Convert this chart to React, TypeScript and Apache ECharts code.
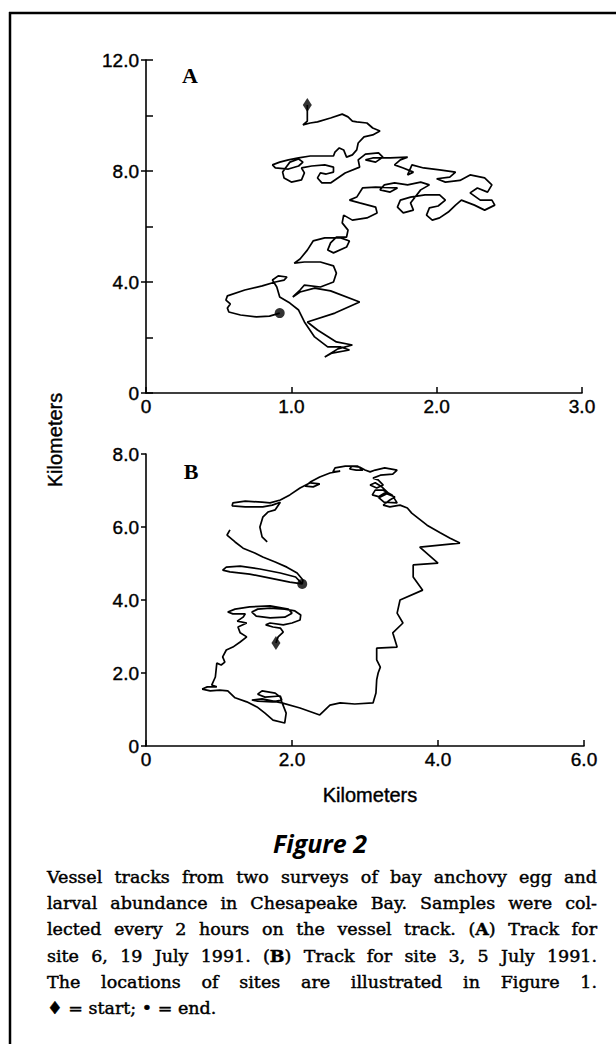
import React, { useEffect, useRef } from "react";
import * as echarts from "echarts";

// ---- Panel A: track for site 6 (km) ----
const trackA: number[][] = [
  [1.11, 10.38], [1.11, 10.05], [1.11, 9.8], [1.08, 9.66], [1.13, 9.73], [1.18, 9.77], [1.27, 9.91], [1.35, 10.05],
  [1.39, 9.95], [1.42, 9.8], [1.45, 9.77], [1.52, 9.73], [1.56, 9.55], [1.61, 9.44], [1.56, 9.3], [1.5, 9.23],
  [1.46, 9.01], [1.45, 8.76], [1.42, 8.58],
  [1.38, 8.5], [1.36, 8.76], [1.33, 8.83], [1.3, 8.68], [1.29, 8.54], [1.21, 8.54], [1.13, 8.54], [1.05, 8.47],
  [0.98, 8.4], [0.92, 8.32], [0.87, 8.22], [0.89, 8.11], [0.98, 8.07], [1.05, 8.18], [1.08, 8.32], [1.05, 8.43],
  [0.99, 8.32], [0.96, 8.11], [0.94, 7.96], [0.95, 7.75], [1.0, 7.6], [1.07, 7.68], [1.09, 7.93], [1.07, 8.11],
  [1.14, 8.18], [1.23, 8.22], [1.29, 8.14], [1.29, 7.96], [1.24, 7.89], [1.2, 7.93], [1.18, 7.75], [1.21, 7.57],
  [1.27, 7.57],
  [1.37, 7.93], [1.47, 8.14], [1.46, 8.4], [1.51, 8.61], [1.6, 8.65], [1.63, 8.5], [1.58, 8.32], [1.51, 8.4],
  [1.56, 8.47], [1.68, 8.47], [1.8, 8.5], [1.75, 8.4], [1.71, 8.22], [1.77, 8.11], [1.84, 7.96], [1.8, 7.86],
  [1.83, 8.22], [1.91, 8.11], [2.02, 8.04], [2.13, 7.96], [2.09, 7.78], [2.0, 7.72], [2.06, 7.6], [2.16, 7.66],
  [2.23, 7.86], [2.33, 7.75], [2.38, 7.5], [2.35, 7.24],
  [2.28, 7.39], [2.23, 7.21], [2.3, 6.95], [2.38, 6.95], [2.4, 6.77], [2.33, 6.59], [2.26, 6.77], [2.17, 6.95],
  [2.13, 6.77], [2.08, 6.52], [2.02, 6.31], [1.97, 6.23], [1.93, 6.41], [1.95, 6.67], [2.01, 6.74], [2.06, 6.95],
  [2.02, 7.14], [1.92, 7.14], [1.82, 7.06], [1.75, 6.95], [1.73, 6.7], [1.77, 6.49], [1.84, 6.59], [1.82, 6.85],
  [1.89, 7.32], [1.95, 7.5], [1.89, 7.6], [1.8, 7.5], [1.71, 7.57], [1.64, 7.5], [1.61, 7.32], [1.68, 7.24],
  [1.73, 7.39], [1.58, 7.42], [1.49, 7.39],
  [1.45, 7.06], [1.4, 6.95], [1.47, 6.85], [1.58, 6.7], [1.59, 6.49], [1.52, 6.31], [1.42, 6.23], [1.36, 6.41],
  [1.35, 6.13], [1.39, 5.87], [1.38, 5.62], [1.31, 5.62], [1.27, 5.41], [1.25, 5.15], [1.29, 5.05], [1.38, 5.26],
  [1.4, 5.48], [1.34, 5.59], [1.23, 5.59], [1.15, 5.48], [1.11, 5.15], [1.06, 4.83], [1.02, 4.68], [1.09, 4.72],
  [1.2, 4.72], [1.29, 4.58], [1.31, 4.32], [1.29, 4.0], [1.2, 3.82], [1.09, 3.89], [1.06, 3.71], [1.01, 3.46],
  [1.06, 3.64], [1.16, 3.78], [1.27, 3.68], [1.47, 3.28], [1.3, 2.88], [1.11, 2.56], [1.18, 2.27], [1.31, 1.84],
  [1.42, 1.73], [1.32, 1.59], [1.23, 1.3], [1.28, 1.44], [1.4, 1.55], [1.34, 1.66], [1.25, 1.66], [1.16, 2.02],
  [1.09, 2.56], [1.05, 2.99], [0.99, 3.24], [0.92, 3.46], [0.9, 3.82], [0.87, 4.07], [0.91, 4.22], [0.97, 4.18],
  [0.95, 4.07], [0.89, 4.0], [0.8, 3.86], [0.68, 3.71], [0.56, 3.5], [0.55, 3.35], [0.58, 3.21], [0.56, 3.06],
  [0.57, 2.92], [0.65, 2.81], [0.76, 2.74], [0.85, 2.77], [0.92, 2.88],
];
const startA: number[] = [1.11, 10.38];
const endA: number[] = [0.92, 2.88];

// ---- Panel B: track for site 3 (km) ----
const trackB: number[][] = [
  [1.78, 2.82], [1.81, 2.99], [1.88, 3.12], [1.84, 3.23], [1.74, 3.26], [1.64, 3.32], [1.7, 3.37], [1.88, 3.32],
  [2.0, 3.37], [2.11, 3.45], [2.12, 3.59], [2.04, 3.7], [1.9, 3.75], [1.7, 3.78], [1.53, 3.75], [1.45, 3.67],
  [1.51, 3.56], [1.7, 3.51], [1.9, 3.53], [2.0, 3.64], [1.95, 3.75], [1.7, 3.84], [1.42, 3.81], [1.22, 3.75],
  [1.12, 3.67], [1.19, 3.62], [1.36, 3.62], [1.33, 3.53], [1.25, 3.42], [1.38, 3.37], [1.26, 3.26], [1.29, 3.1],
  [1.38, 2.99], [1.29, 2.85], [1.19, 2.71], [1.1, 2.63], [1.05, 2.44], [1.08, 2.3], [1.03, 2.22], [0.97, 2.27],
  [0.96, 2.08], [0.95, 1.89], [0.9, 1.67], [0.97, 1.62], [0.84, 1.62], [0.77, 1.56], [0.88, 1.51], [1.01, 1.53],
  [1.12, 1.51], [1.22, 1.32], [1.38, 1.21], [1.52, 1.07], [1.63, 0.9], [1.74, 0.71], [1.9, 0.63], [1.92, 0.9],
  [1.86, 1.21], [1.84, 1.34], [1.77, 1.45], [1.59, 1.51], [1.53, 1.42], [1.63, 1.34], [1.84, 1.37], [1.86, 1.26],
  [1.73, 1.21], [1.53, 1.23], [1.45, 1.26], [1.59, 1.29], [1.86, 1.18], [2.11, 1.04], [2.38, 0.85], [2.42, 0.93],
  [2.52, 1.12], [2.66, 1.18], [2.86, 1.15], [3.11, 1.18], [3.15, 1.45], [3.16, 1.81], [3.18, 2.0], [3.21, 2.16],
  [3.16, 2.36], [3.16, 2.68], [3.44, 2.71], [3.38, 3.1], [3.52, 3.37], [3.44, 3.64], [3.48, 4.0], [3.79, 4.27],
  [3.66, 4.63], [3.66, 4.96], [4.0, 5.01], [3.75, 5.45], [4.3, 5.56], [4.16, 5.7], [4.03, 5.84], [3.85, 6.05],
  [3.64, 6.38], [3.58, 6.52],
  [3.48, 6.6], [3.34, 6.55], [3.25, 6.6], [3.34, 6.74], [3.41, 6.82], [3.27, 6.93], [3.18, 6.82], [3.26, 6.68],
  [3.44, 6.66], [3.37, 6.88], [3.25, 7.01], [3.14, 7.01], [3.1, 6.88], [3.21, 6.82], [3.32, 6.93], [3.23, 7.1],
  [3.14, 7.21], [3.07, 7.15], [3.16, 7.07], [3.25, 7.15], [3.18, 7.29], [3.11, 7.34], [3.21, 7.42], [3.38, 7.45],
  [3.44, 7.56], [3.27, 7.62], [3.14, 7.56], [3.07, 7.51], [3.0, 7.56], [2.93, 7.64], [2.82, 7.67], [2.79, 7.59],
  [2.88, 7.56], [2.97, 7.56], [2.9, 7.67], [2.73, 7.67], [2.59, 7.62], [2.56, 7.51], [2.66, 7.53], [2.52, 7.48],
  [2.38, 7.37], [2.25, 7.23], [2.18, 7.12], [2.29, 7.1], [2.38, 7.18], [2.25, 7.21], [2.11, 7.07], [1.97, 6.88],
  [1.84, 6.74], [1.7, 6.66], [1.59, 6.68], [1.36, 6.71], [1.19, 6.66], [1.18, 6.58], [1.36, 6.55], [1.6, 6.55],
  [1.73, 6.6], [1.84, 6.68], [1.77, 6.47], [1.67, 6.41], [1.6, 6.27], [1.56, 6.0], [1.59, 5.73], [1.66, 5.59],
];
const trackBEnd: number[][] = [
  [1.15, 5.92], [1.11, 5.78], [1.22, 5.59], [1.33, 5.42], [1.49, 5.29], [1.6, 5.18], [1.77, 5.04], [1.93, 4.9],
  [2.07, 4.74], [2.15, 4.55], [2.14, 4.44], [1.97, 4.49], [1.7, 4.6], [1.42, 4.71], [1.15, 4.77], [1.05, 4.82],
  [1.1, 4.9], [1.29, 4.93], [1.56, 4.85], [1.84, 4.74], [2.05, 4.63], [2.14, 4.44],
];
const startB: number[] = [1.78, 2.82];
const endB: number[] = [2.14, 4.44];

// ---- tick labels ----
const xLabelsA = ["0", "1.0", "2.0", "3.0"];
const yLabelsA = ["0", "4.0", "8.0", "12.0"];
const xLabelsB = ["0", "2.0", "4.0", "6.0"];
const yLabelsB = ["0", "2.0", "4.0", "6.0", "8.0"];

// ---- texts ----
const panelLetters = ["A", "B"];
const axisTitle = "Kilometers";
const figureTitle = "Figure 2";
const captionLines = [
  "Vessel tracks from two surveys of bay anchovy egg and",
  "larval abundance in Chesapeake Bay. Samples were col-",
  "lected every 2 hours on the vessel track. (A) Track for",
  "site 6, 19 July 1991. (B) Track for site 3, 5 July 1991.",
  "The locations of sites are illustrated in Figure 1.",
  "\u2666 = start; \u2022 = end.",
];

const SANS = '"Liberation Sans", Arial, Helvetica, sans-serif';
const SERIF = '"DejaVu Serif", serif';

function captionGraphics(): any[] {
  const canvas = document.createElement("canvas");
  const ctx = canvas.getContext("2d") as CanvasRenderingContext2D;
  const left = 47;
  const right = 597;
  const target = right - left;
  const top = 877;
  const lineStep = 26.2;
  const size = 17.5;
  const measure = (t: string, bold: boolean) => {
    ctx.font = `${bold ? "bold " : ""}${size}px ${SERIF}`;
    return ctx.measureText(t).width;
  };
  type Seg = { t: string; b: boolean };
  const wordSegs = (w: string): Seg[] => {
    const m = /^\((A|B)\)$/.exec(w);
    if (m) return [{ t: "(", b: false }, { t: m[1], b: true }, { t: ")", b: false }];
    return [{ t: w, b: false }];
  };
  const wordWidth = (segs: Seg[]) => segs.reduce((a, sg) => a + measure(sg.t, sg.b), 0);
  const out: any[] = [];
  captionLines.forEach((line, i) => {
    const words = line.split(" ");
    const raw = words.map((wd) => wordWidth(wordSegs(wd)));
    const rawTotal = raw.reduce((a, b) => a + b, 0);
    const last = i === captionLines.length - 1;
    const minGap = size * 0.26;
    const scale = Math.min(1, (target - (words.length - 1) * minGap) / rawTotal);
    const widths = raw.map((w) => w * scale);
    const total = rawTotal * scale;
    const gap = last ? measure(" ", false) : (target - total) / (words.length - 1);
    let x = left;
    const y = top + i * lineStep;
    words.forEach((wd, j) => {
      let sx = x;
      wordSegs(wd).forEach((sg) => {
        out.push({
          type: "text",
          x: sx,
          y,
          scaleX: scale,
          silent: true,
          style: {
            text: sg.t,
            fill: "#000",
            stroke: "#000",
            lineWidth: 0.45,
            fontSize: size,
            fontFamily: SERIF,
            fontWeight: sg.b ? "bold" : "normal",
            textAlign: "left",
            align: "left",
            textVerticalAlign: "middle",
            verticalAlign: "middle",
          },
        });
        sx += measure(sg.t, sg.b) * scale;
      });
      x += widths[j] + gap;
    });
  });
  return out;
}

const lbl = (arr: string[], step: number) => (v: number) => arr[Math.round(v / step)] ?? "";

export default function App() {
  const ref = useRef<HTMLDivElement>(null);
  useEffect(() => {
    if (!ref.current) return;
    const chart = echarts.init(ref.current, null, { renderer: "svg", width: 616, height: 1044 });
    const axisLine = { show: true, onZero: false, lineStyle: { color: "#000", width: 1.6 } };
    const labelStyle = {
      color: "#000", fontSize: 19, fontFamily: SANS, showMinLabel: true, showMaxLabel: true,
      textBorderColor: "#000", textBorderWidth: 0.4,
    };
    const tickStyle = { color: "#000", width: 1.5 };
    const lineSeries = (data: number[][], xi: number, yi: number) => ({
      type: "line",
      xAxisIndex: xi,
      yAxisIndex: yi,
      data,
      symbol: "none",
      showSymbol: false,
      silent: true,
      clip: false,
      lineStyle: { color: "#000", width: 1.7 },
      z: 2,
    });
    const marker = (pt: number[], xi: number, yi: number, symbol: string, size: any) => ({
      type: "scatter",
      xAxisIndex: xi,
      yAxisIndex: yi,
      data: [pt],
      symbol,
      symbolSize: size,
      silent: true,
      itemStyle: { color: "#000" },
      z: 3,
    });
    const txt = (text: string, x: number, y: number, extra: any = {}, rot = 0) => ({
      type: "text",
      x,
      y,
      rotation: rot,
      silent: true,
      style: {
        text,
        fill: "#000",
        textAlign: "center",
        align: "center",
        textVerticalAlign: "middle",
        verticalAlign: "middle",
        ...extra,
      },
    });
    const option: any = {
      animation: false,
      backgroundColor: "#fff",
      grid: [
        { left: 146, top: 60, width: 436, height: 333 },
        { left: 146, top: 454, width: 438, height: 292 },
      ],
      xAxis: [
        {
          gridIndex: 0, type: "value", min: 0, max: 3, interval: 1,
          axisLine, splitLine: { show: false },
          axisTick: { show: true, inside: true, length: 6, lineStyle: tickStyle },
          axisLabel: { ...labelStyle, margin: 4, formatter: lbl(xLabelsA, 1) },
        },
        {
          gridIndex: 1, type: "value", min: 0, max: 6, interval: 2,
          axisLine, splitLine: { show: false },
          axisTick: { show: true, inside: true, length: 6, lineStyle: tickStyle },
          axisLabel: { ...labelStyle, margin: 4, formatter: lbl(xLabelsB, 2) },
        },
      ],
      yAxis: [
        {
          gridIndex: 0, type: "value", position: "left", min: 0, max: 12, interval: 4,
          axisLine, splitLine: { show: false },
          axisTick: { show: true, inside: false, length: 5, lineStyle: tickStyle },
          axisLabel: { ...labelStyle, margin: 7, formatter: lbl(yLabelsA, 4) },
        },
        {
          gridIndex: 0, type: "value", position: "left", offset: 0, min: 0, max: 12, interval: 2,
          axisLine: { show: false }, splitLine: { show: false },
          axisTick: { show: true, inside: true, length: 7, lineStyle: tickStyle },
          axisLabel: { show: false },
        },
        {
          gridIndex: 1, type: "value", position: "left", min: 0, max: 8, interval: 2,
          axisLine, splitLine: { show: false },
          axisTick: { show: true, inside: false, length: 5, lineStyle: tickStyle },
          axisLabel: { ...labelStyle, margin: 7, formatter: lbl(yLabelsB, 2) },
        },
      ],
      series: [
        lineSeries(trackA, 0, 0),
        marker(startA, 0, 0, "diamond", [9, 14]),
        marker(endA, 0, 0, "circle", 10),
        lineSeries(trackB, 1, 2),
        lineSeries(trackBEnd, 1, 2),
        marker(startB, 1, 2, "diamond", [9, 14]),
        marker(endB, 1, 2, "circle", 10),
      ],
      graphic: [
        { type: "line", silent: true, shape: { x1: 10, y1: 12, x2: 10, y2: 1044 }, style: { stroke: "#000", lineWidth: 2.5 } },
        { type: "line", silent: true, shape: { x1: 9, y1: 13, x2: 616, y2: 13 }, style: { stroke: "#000", lineWidth: 2.5 } },
        txt(panelLetters[0], 190, 75, { fontSize: 22, fontWeight: "bold", fontFamily: '"Liberation Serif", serif' }),
        txt(panelLetters[1], 191, 471, { fontSize: 22, fontWeight: "bold", fontFamily: '"Liberation Serif", serif' }),
        txt(axisTitle, 55, 440, { fontSize: 20, fontFamily: SANS, stroke: "#000", lineWidth: 0.4 }, Math.PI / 2),
        txt(axisTitle, 370, 795, { fontSize: 20, fontFamily: SANS, stroke: "#000", lineWidth: 0.4 }),
        txt(figureTitle, 320, 843, { fontSize: 25, fontWeight: "bold", fontStyle: "italic", fontFamily: '"Open Sans", sans-serif' }),
        ...captionGraphics(),
      ],
    };
    chart.setOption(option);
    return () => chart.dispose();
  }, []);
  return (
    <div
      ref={ref}
      style={{ position: "absolute", left: 0, top: 0, width: 616, height: 1044, background: "#fff" }}
    />
  );
}
